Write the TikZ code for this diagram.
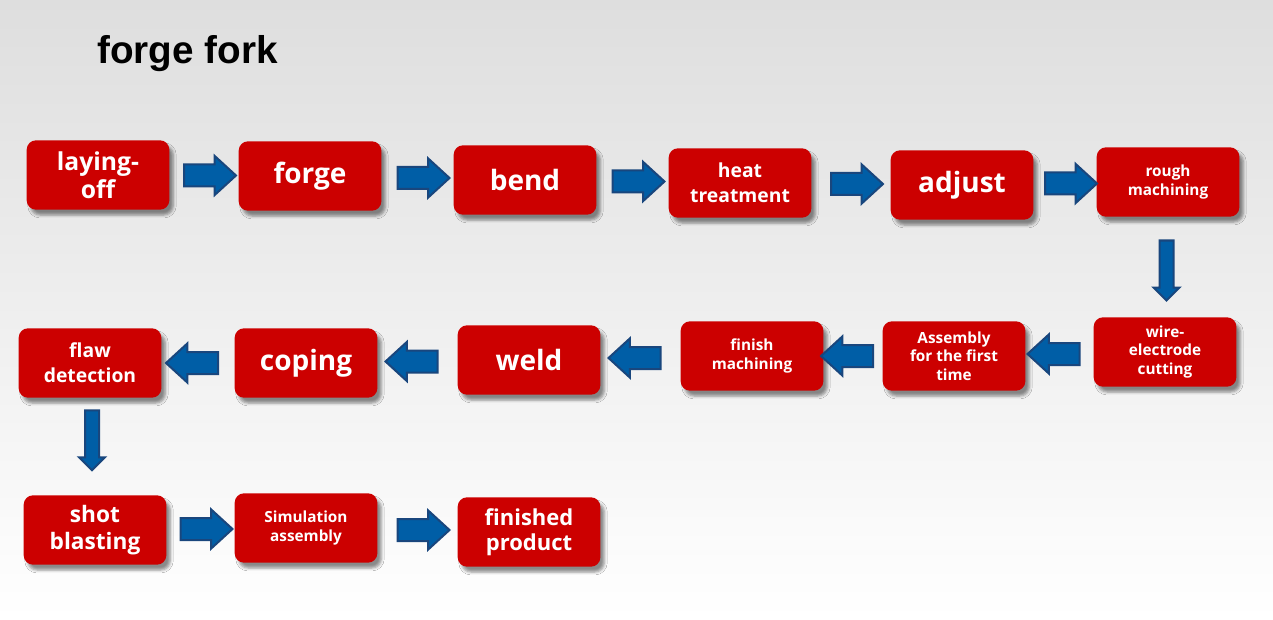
\documentclass[tikz,border=0pt]{standalone}
\usepackage{fontspec}
\setmainfont{Open Sans}
\newfontfamily\titlefont{Liberation Sans}
\usetikzlibrary{shapes.arrows,shadows.blur,calc}
\definecolor{boxred}{RGB}{204,0,0}
\definecolor{arrowblue}{RGB}{0,94,166}
\definecolor{arrowedge}{RGB}{25,70,125}
\definecolor{bgtop}{RGB}{222,222,222}

\begin{document}
\begin{tikzpicture}[x=0.75pt, y=-0.75pt,
    stepbox/.style={rectangle, rounded corners=7pt, fill=boxred, text=white,
        minimum width=107pt, minimum height=52pt, align=center, inner sep=2pt,
        blur shadow={shadow xshift=3pt, shadow yshift=-4pt, shadow opacity=45}},
    huge/.style={font=\bfseries\fontsize{21}{25}\selectfont},
    large/.style={font=\bfseries\fontsize{17}{20.5}\selectfont},
    mid/.style={font=\bfseries\fontsize{14.5}{18.5}\selectfont},
    small/.style={font=\bfseries\fontsize{11.5}{14}\selectfont},
    harrow/.style={single arrow, fill=arrowblue, draw=arrowedge, line width=1.5pt,
        minimum height=39pt, inner xsep=0pt, inner ysep=7.5pt,
        single arrow head extend=6.5pt, single arrow tip angle=85},
    varrow/.style={single arrow, fill=arrowblue, draw=arrowedge, line width=1.5pt,
        minimum height=45pt, inner xsep=4.5pt, inner ysep=0pt,
        single arrow head extend=4.5pt, shape border rotate=270}
]
% Background
\useasboundingbox (0,0) rectangle (1273,620);
\shade[top color=bgtop, bottom color=white] (0,0) rectangle (1273,620);

% Title
\node[anchor=base west, inner sep=0pt, font=\titlefont\bfseries\fontsize{29}{32}\selectfont] (title) at (97,64) {forge fork};

% Row 1
\node[stepbox, font=\bfseries\fontsize{18.5}{21}\selectfont] (lay) at (98,175) {laying-\\off};
\node[stepbox, huge] (forge) at (310,176) {forge};
\node[stepbox, huge] (bend) at (525,180) {bend};
\node[stepbox, mid] (heat) at (740,183) {heat\\treatment};
\node[stepbox, huge] (adjust) at (962,185) {adjust};
\node[stepbox, small] (rough) at (1168,182) {rough\\machining};

% Row 2
\node[stepbox, small] (wire) at (1165,352) {wire-\\electrode\\cutting};
\node[stepbox, small] (assem) at (954,356) {Assembly\\for the first\\time};
\node[stepbox, small] (finish) at (752,356) {finish\\machining};
\node[stepbox, huge] (weld) at (529,360) {weld};
\node[stepbox, huge] (coping) at (306,363) {coping};
\node[stepbox, mid] (flaw) at (90,363) {flaw\\detection};

% Row 3
\node[stepbox, large] (shot) at (95,530) {shot\\blasting};
\node[stepbox, small] (simu) at (306,528) {Simulation\\assembly};
\node[stepbox, font=\bfseries\fontsize{16.5}{19}\selectfont] (prod) at (529,532) {finished\\product};

% Arrows
\node[harrow] (a1) at ($(lay.east)!0.5!(forge.west)$) {};
\node[harrow] (a2) at ($(forge.east)!0.5!(bend.west)$) {};
\node[harrow] (a3) at ($(bend.east)!0.5!(heat.west)$) {};
\node[harrow] (a4) at ($(heat.east)!0.5!(adjust.west)$) {};
\node[harrow] (a5) at ($(adjust.east)!0.5!(rough.west)$) {};
\node[varrow] (a6) at ($(rough.south)!0.5!(wire.north)$) {};
\node[harrow, shape border rotate=180] (a7) at ($(wire.west)!0.5!(assem.east)$) {};
\node[harrow, shape border rotate=180] (a8) at ($(assem.west)!0.5!(finish.east)$) {};
\node[harrow, shape border rotate=180] (a9) at ($(finish.west)!0.5!(weld.east)$) {};
\node[harrow, shape border rotate=180] (a10) at ($(weld.west)!0.5!(coping.east)$) {};
\node[harrow, shape border rotate=180] (a11) at ($(coping.west)!0.5!(flaw.east)$) {};
\node[varrow] (a12) at ($(flaw.south)!0.4!(shot.north)$) {};
\node[harrow] (a13) at ($(shot.east)!0.5!(simu.west)$) {};
\node[harrow] (a14) at ($(simu.east)!0.5!(prod.west)$) {};
\end{tikzpicture}
\end{document}
